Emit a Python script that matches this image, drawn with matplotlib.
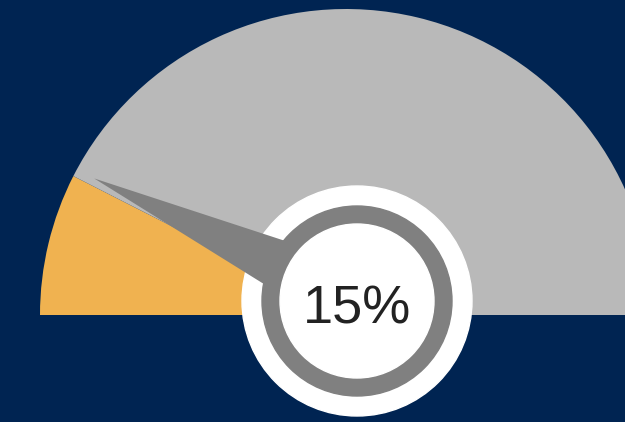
import numpy as np
import matplotlib
matplotlib.use("Agg")
import matplotlib.pyplot as plt
from matplotlib.patches import Circle, Polygon

# gauge data
value = 15
labels = ["value", "rest"]
sizes = [value, 100 - value]
colors = ["#f0b250", "#b9b9b9"]
label_text = "15%"

bg = "#002452"

fig = plt.figure(figsize=(6.25, 4.22), dpi=100, facecolor=bg)
ax = fig.add_axes([0, 0, 1, 1])
ax.set_facecolor(bg)

# half pie: pad with an invisible slice the size of the whole
wedges, _ = ax.pie(sizes + [100], colors=colors + ["none"], radius=306,
                   center=(346, 107), startangle=180, counterclock=False,
                   frame=True, wedgeprops=dict(linewidth=0))

# hub position (pixels, y up)
cx, cy = 357, 121

ax.add_patch(Circle((cx, cy), 115, color="white", zorder=3))

# needle
ang = np.deg2rad(155)
length = 290
half_w = 35
tip = (cx + length * np.cos(ang), cy + length * np.sin(ang))
nx, ny = -np.sin(ang), np.cos(ang)
needle = Polygon([tip, (cx + half_w * nx, cy + half_w * ny),
                  (cx - half_w * nx, cy - half_w * ny)],
                 closed=True, color="#808080", zorder=4, linewidth=0)
ax.add_patch(needle)

ax.add_patch(Circle((cx, cy), 95, color="#808080", zorder=5))
ax.add_patch(Circle((cx, cy), 77, color="white", zorder=6))

ax.text(cx, cy - 8, label_text, ha="center", va="center", fontsize=39,
        color="#222222", family="Liberation Sans", zorder=7)

ax.set_xlim(0, 625)
ax.set_ylim(0, 422)
ax.set_aspect("equal")
ax.axis("off")

fig.savefig("out.png", dpi=100, facecolor=bg)
